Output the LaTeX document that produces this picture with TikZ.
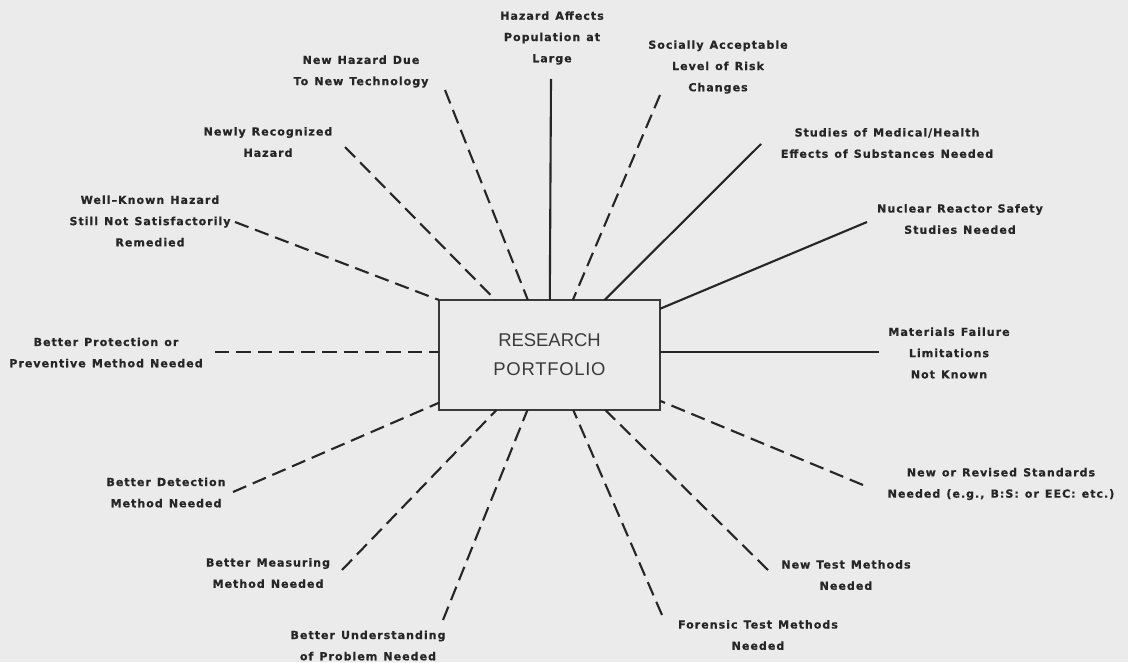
\documentclass[tikz,border=0pt]{standalone}
\usepackage{fontspec}
\setmainfont{Liberation Sans}
\newfontfamily\lblfont{DejaVu Sans}[LetterSpace=9, WordSpace=1.25, FakeBold=0.6]
\newfontfamily\boxfont{Liberation Sans}
\newfontfamily\boxfontwide{Liberation Sans}[LetterSpace=4]
\definecolor{paper}{HTML}{EBEBEB}
\definecolor{ink}{HTML}{262626}
\definecolor{boxink}{HTML}{3A3A3A}
\tikzset{
  lbl/.style={inner sep=0pt, align=center, text=ink,
    font=\lblfont\bfseries\fontsize{6.3}{12.1}\selectfont},
  spoke/.style={draw=ink, line width=1.2pt},
  dspoke/.style={spoke, dash pattern=on 8.2pt off 4pt},
  portfolio/.style={draw=boxink, line width=1.5pt, minimum width=221*0.02cm,
    minimum height=110*0.02cm, inner sep=0pt, outer sep=0pt, align=center,
    text=boxink, font=\fontsize{10.5}{16.5}\selectfont}
}
\begin{document}
\begin{tikzpicture}[x=0.02cm, y=-0.02cm]
  \fill[paper] (0,0) rectangle (1128,662);
  \useasboundingbox (0,0) rectangle (1128,662);

  % central box
  \node[portfolio] (box) at (549.5,355) {{\boxfont RESEARCH}\\{\boxfontwide PORTFOLIO}};

  % labels around the box
  \node[lbl] (haz)   at (552,38)    {Hazard Affects\\Population at\\Large};
  \node[lbl] (soc)   at (718,67)    {Socially Acceptable\\Level of Risk\\Changes};
  \node[lbl] (tech)  at (361,71.5)  {New Hazard Due\\To New Technology};
  \node[lbl] (newly) at (268,142)   {Newly Recognized\\Hazard};
  \node[lbl] (well)  at (150,221)   {Well–Known Hazard\\Still Not Satisfactorily\\Remedied};
  \node[lbl] (prot)  at (106,352.5) {Better Protection or\\Preventive Method Needed};
  \node[lbl] (med)   at (887,143)   {Studies of Medical/Health\\Effects of Substances Needed};
  \node[lbl] (nuc)   at (960,219)   {Nuclear Reactor Safety\\Studies Needed};
  \node[lbl] (mat)   at (949,353)   {Materials Failure\\Limitations\\Not Known};
  \node[lbl] (std)   at (1001,484)  {New or Revised Standards\\Needed (e.g., B:S: or EEC: etc.)};
  \node[lbl] (ntm)   at (846,575)   {New Test Methods\\Needed};
  \node[lbl] (for)   at (758,635)   {Forensic Test Methods\\Needed};
  \node[lbl] (und)   at (368,645.5) {Better Understanding\\of Problem Needed};
  \node[lbl] (meas)  at (268,573)   {Better Measuring\\Method Needed};
  \node[lbl] (det)   at (166,492.5) {Better Detection\\Method Needed};

  % outer ends of the spokes
  \coordinate (pHaz)   at (551,79);
  \coordinate (pSoc)   at (660,95);
  \coordinate (pTech)  at (445,90);
  \coordinate (pNewly) at (345,147);
  \coordinate (pWell)  at (235,222);
  \coordinate (pProt)  at (215,352);
  \coordinate (pMed)   at (761,144);
  \coordinate (pNuc)   at (867,222);
  \coordinate (pMat)   at (879,352);
  \coordinate (pStd)   at (863,485);
  \coordinate (pNtm)   at (768,570);
  \coordinate (pFor)   at (662,615);
  \coordinate (pUnd)   at (443,620);
  \coordinate (pMeas)  at (342,570);
  \coordinate (pDet)   at (233,492);

  % solid spokes
  \draw[spoke] (pHaz) -- (box);
  \draw[spoke] (pMed) -- (box);
  \draw[spoke] (pNuc) -- (box);
  \draw[spoke] (pMat) -- (pMat -| box.east);

  % dashed spokes
  \draw[dspoke] (pSoc) -- (box);
  \draw[dspoke] (pTech) -- (box);
  \draw[dspoke] (pNewly) -- (box);
  \draw[dspoke] (pWell) -- (box.north west);
  \draw[dspoke] (pProt) -- (pProt -| box.west);
  \draw[dspoke] (pStd) -- (box);
  \draw[dspoke] (pNtm) -- (box);
  \draw[dspoke] (pFor) -- (box);
  \draw[dspoke] (pUnd) -- (box);
  \draw[dspoke] (pMeas) -- (box);
  \draw[dspoke] (pDet) -- (box);
\end{tikzpicture}
\end{document}
